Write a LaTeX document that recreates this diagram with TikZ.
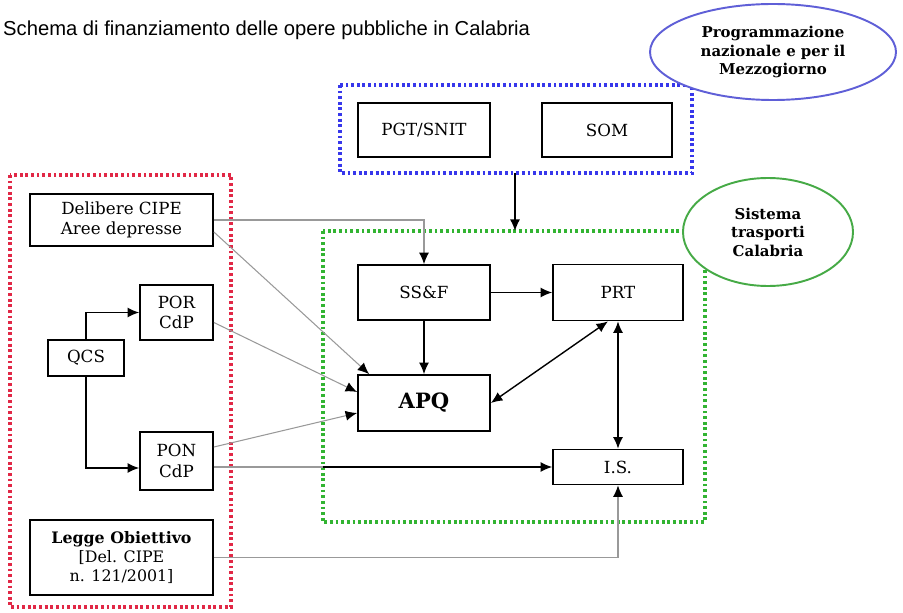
\documentclass[tikz,border=0pt]{standalone}
\usepackage{fontspec}
\setmainfont{DejaVu Serif}
\newfontfamily\titlefont{Liberation Sans}
\usetikzlibrary{arrows.meta, positioning, calc, shapes.geometric}
\definecolor{dotblue}{RGB}{55,55,235}
\definecolor{dotred}{RGB}{225,40,70}
\definecolor{dotgreen}{RGB}{50,180,50}
\definecolor{ellblue}{RGB}{95,95,215}
\definecolor{ellgreen}{RGB}{70,170,70}

\begin{document}
\begin{tikzpicture}[x=0.2mm, y=-0.2mm,
  box/.style={draw, line width=1pt, align=center, inner sep=1pt, font=\fontsize{9.5}{11.5}\selectfont},
  area/.style={line width=1.9pt, dash pattern=on 1.6pt off 1.6pt},
  cloud/.style={ellipse, line width=1.1pt, fill=white, align=center, inner sep=0pt, font=\fontsize{8.5}{10.5}\selectfont\bfseries},
  link/.style={line width=0.8pt, -{Latex[length=2.3mm,width=2mm]}},
  graylink/.style={gray!80, line width=0.6pt, -{Latex[length=2.3mm,width=2mm,color=black]}},
  both/.style={line width=0.8pt, {Latex[length=2.3mm,width=2mm]}-{Latex[length=2.3mm,width=2mm]}}
]
\useasboundingbox (0,0) rectangle (903,613);

% title
\node[anchor=west, font=\titlefont\fontsize{11.5}{13}\selectfont] (title) at (-3,30)
  {Schema di finanziamento delle opere pubbliche in Calabria};

% dotted areas
\draw[area, dotblue] (340,85) rectangle (692,173);
\draw[area, dotgreen] (323,231) rectangle (705,522);
\draw[area, dotred] (10,175) rectangle (231,607);
\coordinate (bluebot) at (515,173);
\coordinate (greentop) at (515,231);
\coordinate (greenleft) at (323,468);

% labels of the areas
\node[cloud, draw=ellblue, minimum width=49.2mm, minimum height=19.2mm] (naz) at (773,52)
  {Programmazione\\nazionale e per il\\Mezzogiorno};
\node[cloud, draw=ellgreen, minimum width=34mm, minimum height=21.6mm] (cal) at (768,232)
  {Sistema\\trasporti\\Calabria};

% national planning
\node[box, minimum width=26.4mm, minimum height=10.8mm] (pgt) at (424,130) {PGT/SNIT};
\node[box, minimum width=26mm, minimum height=10.8mm] (som) at (607,130) {SOM};

% regional transport system
\node[box, minimum width=26.4mm, minimum height=11mm] (ssf) at (424,292.5) {SS\&F};
\node[box, minimum width=26mm, minimum height=11.2mm] (prt) at (618,292.5) {PRT};
\node[box, minimum width=26.4mm, minimum height=11.2mm, font=\fontsize{12}{14}\selectfont\bfseries] (apq) at (424,403) {APQ};
\node[box, minimum width=26mm, minimum height=7mm] (is) at (618,467) {I.S.};

% funding sources
\node[box, minimum width=36.6mm, minimum height=10.4mm] (delib) at (121.5,220) {Delibere CIPE\\Aree depresse};
\node[box, minimum width=14.6mm, minimum height=11mm] (por) at (176.5,312.5) {POR\\CdP};
\node[box, minimum width=15.2mm, minimum height=7.2mm] (qcs) at (86,358) {QCS};
\node[box, minimum width=14.6mm, minimum height=11.6mm] (pon) at (176.5,461) {PON\\CdP};
\node[box, minimum width=36.6mm, minimum height=15mm, font=\fontsize{9}{11}\selectfont] (legge) at (121.5,557.5)
  {\textbf{Legge Obiettivo}\\{[}Del. CIPE\\n. 121/2001{]}};

% connectors
\draw[link] (bluebot) -- (greentop);
\draw[link] (qcs.north) |- (por.west);
\draw[link] (qcs.south) |- ($(pon.west)+(0,7)$);
\draw[graylink] (delib.east) -| (ssf.north);
\draw[graylink] ($(delib.east)+(0,12)$) -- ($(apq.north west)+(12,0)$);
\draw[graylink] ($(por.east)+(0,10)$) -- ($(apq.west)+(0,-11)$);
\draw[graylink] ($(pon.east)+(0,-14)$) -- ($(apq.west)+(0,10)$);
\draw[gray!80, line width=0.6pt] (pon.east |- is.west) -- (greenleft |- is.west);
\draw[link] (greenleft |- is.west) -- (is.west);
\draw[graylink] (legge.east) -| (is.south);
\draw[link] (ssf.east) -- (prt.west);
\draw[link] (ssf.south) -- (apq.north);
\draw[both] (apq.east) -- ($(prt.south)+(-10,0)$);
\draw[both] (prt.south) -- (is.north);
\end{tikzpicture}
\end{document}
